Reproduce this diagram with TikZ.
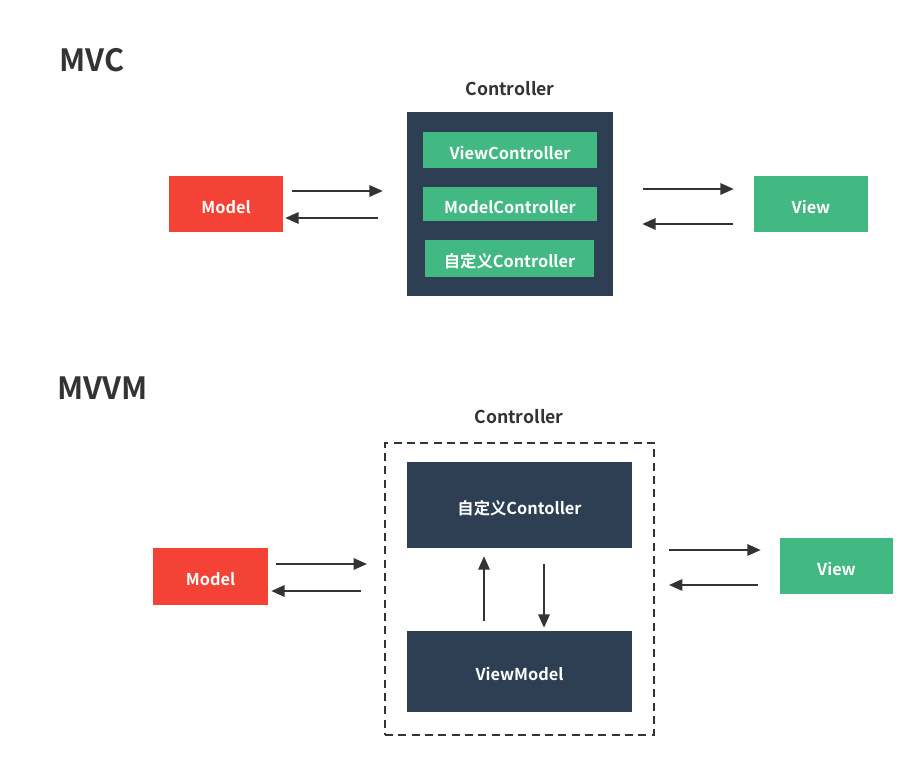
\documentclass[tikz,border=0pt]{standalone}
\usepackage{fontspec}
\setmainfont{Noto Sans CJK SC}[BoldFont={Noto Sans CJK SC Bold}]
\usetikzlibrary{arrows.meta,calc}
\definecolor{ink}{HTML}{333333}
\definecolor{navy}{HTML}{2E3F54}
\definecolor{vgreen}{HTML}{42B883}
\definecolor{vred}{HTML}{F44336}

\begin{document}
\begin{tikzpicture}
	[
		x = 0.75pt, y = -0.75pt,
		box/.style = {shape=rectangle, anchor=center, inner sep=0pt, text=white, text height=1.4em, text depth=0pt, font=\bfseries\fontsize{12.25}{14}\selectfont},
		redbox/.style = {box, fill=vred, minimum width=85.5pt, minimum height=42pt},
		greenbox/.style = {box, fill=vgreen},
		navybox/.style = {box, fill=navy},
		heading/.style = {anchor=west, inner sep=0pt, text=ink, font=\bfseries\fontsize{23}{26}\selectfont},
		caption/.style = {inner sep=0pt, text=ink, font=\bfseries\fontsize{13.25}{15}\selectfont},
		arrow/.style = {draw=ink, line width=1.5pt, -{Triangle[length=10pt, width=8.5pt]}}
	]
	
	\useasboundingbox (0, 0) rectangle (918, 760);
	
	\newcommand{\link}[5]{\draw [arrow, shorten <=#4, shorten >=#5] (#1 |- 0, #3) -- (#2 |- 0, #3); }
	
	\node [heading] (mvc) at (59, 60) {MVC};
	\node [caption] (ctrltitle) at (510, 89) {Controller};
	
	\node [redbox] (model) at (226, 204) {Model};
	\node [navybox, minimum width=154.5pt, minimum height=138pt] (ctrl) at (510, 204) {};
	\node [greenbox, minimum width=130.5pt, minimum height=27pt] (viewctrl) at (510, 150) {ViewController};
	\node [greenbox, minimum width=130.5pt, minimum height=25.5pt] (modelctrl) at (510, 204) {ModelController};
	\node [greenbox, minimum width=126.75pt, minimum height=27.75pt] (customctrl) at (509.5, 258.5) {自定义Controller};
	\node [greenbox, minimum width=85.5pt, minimum height=42pt] (view) at (811, 204) {View};
	
	\link{model.east}{ctrl.west}{191}{6.75pt}{18pt}
	\link{ctrl.west}{model.east}{218}{21.75pt}{1.5pt}
	\link{ctrl.east}{view.west}{189}{22.5pt}{15pt}
	\link{view.west}{ctrl.east}{224}{15.75pt}{21.75pt}
	
	\node [heading] (mvvm) at (57, 388) {MVVM};
	\node [caption] (ctrltitle2) at (519, 417) {Controller};
	
	\node [draw=ink, line width=1.5pt, dash pattern=on 6pt off 4pt, minimum width=201.75pt, minimum height=219pt, inner sep=0pt] (frame) at (519.5, 589) {};
	\node [navybox, minimum width=168.75pt, minimum height=64.5pt] (custom) at (519.5, 505) {自定义Contoller};
	\node [navybox, minimum width=168.75pt, minimum height=60.75pt] (viewmodel) at (519.5, 671.5) {ViewModel};
	\node [redbox, minimum width=86.25pt, minimum height=42.75pt] (model2) at (210.5, 576.5) {Model};
	\node [greenbox, minimum width=84.75pt, minimum height=42pt] (view2) at (836.5, 566) {View};
	
	\link{model2.east}{frame.west}{564}{6pt}{12.75pt}
	\link{frame.west}{model2.east}{591}{17.25pt}{2.25pt}
	\link{frame.east}{view2.west}{550}{10.5pt}{14.25pt}
	\link{view2.west}{frame.east}{585}{16.5pt}{10.5pt}
	
	\draw [arrow, shorten <=7.5pt, shorten >=6pt] (viewmodel.north -| 484, 0) -- (custom.south -| 484, 0);
	\draw [arrow, shorten <=12pt, shorten >=2.25pt] (custom.south -| 544, 0) -- (viewmodel.north -| 544, 0);
\end{tikzpicture}
\end{document}
